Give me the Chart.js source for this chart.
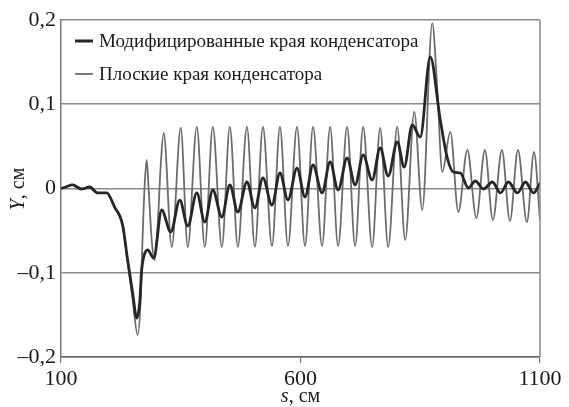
<!DOCTYPE html>
<html>
<head>
<meta charset="utf-8">
<script src="https://cdn.jsdelivr.net/npm/chart.js@4.4.0/dist/chart.umd.min.js"></script>
<style>
  html, body { margin: 0; padding: 0; background: #ffffff; }
  #wrap { width: 569px; height: 407px; position: relative; }
  .probe { font-family: 'Liberation Serif'; position: absolute; left: -9999px; top: 0; }
</style>
</head>
<body>
<div id="wrap"><canvas id="c" width="569" height="407"></canvas></div>
<span class="probe">Модифицированные 0,1 <i>s Y</i></span>
<script>
// ---- Data ----
const seriesLabels = ["Модифицированные края конденсатора", "Плоские края конденсатора"];
const xTickValues = [100, 600, 1100];
const yTickValues = [-0.2, -0.1, 0, 0.1, 0.2];

// Series 1: modified capacitor edges (thick dark line)
const sModified = [100, 109.4, 124.1, 142.9, 159.6, 176.4, 195.2, 211.9, 228.6, 239.1, 249.6, 258.0, 264.2, 268.4, 272.6, 281.0, 293.5,
  310.2, 329.1, 347.9, 364.6, 383.5, 400.2, 416.9, 435.8, 452.5, 469.2, 488.1, 504.8, 521.5, 540.4, 557.1, 573.8, 592.7, 609.4,
  626.2, 645.0, 661.8, 678.5, 697.3, 714.1, 730.8, 749.6, 766.3, 783.1, 801.9, 816.5, 833.3, 850.0, 870.9, 891.8, 906.5, 919.0,
  933.7, 950.4, 965.0, 981.8, 1000.6, 1017.4, 1034.1, 1052.9, 1069.6, 1086.4, 1100];
const yModified = [0.000, 0.0018, 0.0042, -0.0006, 0.0018, -0.0053, -0.0053, -0.0220, -0.0433, -0.0849, -0.1240, -0.1537, -0.1359, -0.0967, -0.0813, -0.0730, -0.0825,
  -0.0255, -0.0516, -0.0137, -0.0445, -0.0053, -0.0398, -0.0018, -0.0338, 0.0042, -0.0279, 0.0077, -0.0231, 0.0125, -0.0196, 0.0184, -0.0136, 0.0243, -0.0101,
  0.0279, -0.0053, 0.0315, -0.0018, 0.0362, 0.0042, 0.0398, 0.0101, 0.0481, 0.0148, 0.0552, 0.0255, 0.0754, 0.0611, 0.1561, 0.0813, 0.0362, 0.0196,
  0.0184, 0.0006, 0.0089, -0.0006, 0.0077, -0.0053, 0.0077, -0.0053, 0.0077, -0.0053, 0.0065];

// Series 2: flat capacitor edges (thin grey line)
const sFlat = [100, 109.4, 124.1, 142.9, 159.6, 176.4, 195.2, 211.9, 228.6, 239.1, 249.6, 260.0, 266.3, 270.5, 274.7, 278.9, 283.1, 289.3, 295.6, 301.9, 308.2, 314.4,
  331.2, 350.0, 364.6, 383.5, 400.2, 416.9, 435.8, 452.5, 469.2, 488.1, 504.8, 521.5, 540.4, 557.1, 573.8, 592.7, 609.4, 626.2, 645.0, 661.8, 678.5, 697.3,
  714.1, 730.8, 749.6, 766.3, 783.1, 801.9, 818.6, 837.5, 854.2, 875.1, 885.6, 896.0, 912.8, 929.5, 948.3, 967.1, 984.9, 1001.6, 1020.5, 1037.2, 1053.9,
  1072.7, 1087.4, 1100];
const yFlat = [0.000, 0.0018, 0.0042, -0.0006, 0.0018, -0.0053, -0.0053, -0.0220, -0.0433, -0.0872, -0.1323, -0.1739, -0.1323, -0.0552, 0.0042, 0.0338, -0.0018, -0.0611, -0.0849, -0.0433, 0.0279, 0.0659,
  -0.0694, 0.0718, -0.0694, 0.0730, -0.0694, 0.0730, -0.0694, 0.0730, -0.0694, 0.0730, -0.0694, 0.0730, -0.0682, 0.0730, -0.0682, 0.0730, -0.0682, 0.0730, -0.0682, 0.0730, -0.0682, 0.0730,
  -0.0682, 0.0730, -0.0694, 0.0718, -0.0694, 0.0730, -0.0611, 0.0908, -0.0255, 0.1964, 0.1169, 0.0196, 0.0671, -0.0279, 0.0457, -0.0350, 0.0457, -0.0374, 0.0457, -0.0386, 0.0457,
  -0.0398, 0.0433, -0.0374];

const toPoints = (xs, ys) => xs.map((x, i) => ({ x: x, y: ys[i] }));

const SERIF = "'Liberation Serif', 'Times New Roman', Tinos, serif";
const colModified = '#262626';
const colFlat = '#6c6c6c';

const fmtY = v => {
  const r = Math.round(v * 10) / 10;
  if (r === 0) return '0';
  const s = Math.abs(r).toFixed(1).replace('.', ',');
  return (r < 0 ? '\u2013' : '') + s;
};

const decorPlugin = {
  id: 'decor',
  afterDraw(chart) {
    const ctx = chart.ctx;
    const a = chart.chartArea;
    ctx.save();
    // right border of the plot box
    ctx.strokeStyle = '#8a8a8a';
    ctx.lineWidth = 1.5;
    ctx.beginPath();
    ctx.moveTo(a.right, a.top);
    ctx.lineTo(a.right, a.bottom);
    ctx.stroke();

    // legend inside the plot
    const ds = chart.data.datasets;
    const rows = [{ y: 41, w: 3, c: colModified }, { y: 74, w: 1.8, c: colFlat }];
    ctx.font = '19px ' + SERIF;
    ctx.textBaseline = 'middle';
    ctx.textAlign = 'left';
    rows.forEach((r, i) => {
      ctx.strokeStyle = r.c;
      ctx.lineWidth = r.w;
      ctx.beginPath();
      ctx.moveTo(75, r.y);
      ctx.lineTo(93, r.y);
      ctx.stroke();
      ctx.fillStyle = '#1a1a1a';
      ctx.fillText(ds[i].label, 99, r.y + 1);
    });

    // x axis title: italic s + ", см"
    ctx.fillStyle = '#1a1a1a';
    ctx.textBaseline = 'alphabetic';
    const xt1 = 's', xt2 = ', см';
    ctx.font = 'italic 20px ' + SERIF;
    const w1 = ctx.measureText(xt1).width;
    ctx.font = '20px ' + SERIF;
    const w2 = ctx.measureText(xt2).width;
    const cx = (a.left + a.right) / 2;
    let sx = cx - (w1 + w2) / 2;
    ctx.font = 'italic 20px ' + SERIF;
    ctx.fillText(xt1, sx, 402);
    ctx.font = '20px ' + SERIF;
    ctx.fillText(xt2, sx + w1, 402);

    // y axis title: italic Y + ", см", rotated
    ctx.save();
    ctx.translate(24, 189);
    ctx.rotate(-Math.PI / 2);
    const yt1 = 'Y', yt2 = ', см';
    ctx.font = 'italic 20px ' + SERIF;
    const v1 = ctx.measureText(yt1).width;
    ctx.font = '20px ' + SERIF;
    const v2 = ctx.measureText(yt2).width;
    let sy = -(v1 + v2) / 2;
    ctx.font = 'italic 20px ' + SERIF;
    ctx.fillText(yt1, sy, 0);
    ctx.font = '20px ' + SERIF;
    ctx.fillText(yt2, sy + v1, 0);
    ctx.restore();

    ctx.restore();
  }
};

function build() {
  new Chart(document.getElementById('c'), {
    type: 'line',
    data: {
      datasets: [
        {
          label: seriesLabels[0],
          data: toPoints(sModified, yModified),
          borderColor: colModified,
          borderWidth: 2.8,
          pointRadius: 0,
          cubicInterpolationMode: 'monotone',
          fill: false,
          order: 0
        },
        {
          label: seriesLabels[1],
          data: toPoints(sFlat, yFlat),
          borderColor: colFlat,
          borderWidth: 1.8,
          pointRadius: 0,
          cubicInterpolationMode: 'monotone',
          fill: false,
          order: 1
        }
      ]
    },
    options: {
      responsive: false,
      animation: false,
      devicePixelRatio: 1,
      layout: { padding: { left: 0, right: 29, top: 20, bottom: 0 } },
      plugins: { legend: { display: false }, tooltip: { enabled: false } },
      scales: {
        x: {
          type: 'linear',
          min: 100,
          max: 1100,
          afterBuildTicks: (scale) => { scale.ticks = xTickValues.map(v => ({ value: v })); },
          afterFit: (scale) => { scale.height = 50; },
          ticks: {
            font: { family: SERIF, size: 22 },
            color: '#1a1a1a',
            padding: 3,
            maxRotation: 0,
            autoSkip: false,
            callback: v => String(v)
          },
          grid: {
            drawOnChartArea: false,
            drawTicks: true,
            tickLength: 6,
            color: '#777777',
            lineWidth: 1.2
          },
          border: { display: true, color: '#666666', width: 1.5 }
        },
        y: {
          type: 'linear',
          min: -0.2,
          max: 0.2,
          afterBuildTicks: (scale) => { scale.ticks = yTickValues.map(v => ({ value: v })); },
          afterFit: (scale) => { scale.width = 61; },
          ticks: {
            font: { family: SERIF, size: 22 },
            color: '#1a1a1a',
            padding: 5,
            autoSkip: false,
            callback: v => fmtY(v)
          },
          grid: {
            drawTicks: false,
            color: '#8a8a8a',
            lineWidth: 1.5
          },
          border: { display: true, color: '#7a7a7a', width: 1.5 }
        }
      }
    },
    plugins: [decorPlugin]
  });
}

const fontLoads = [
  '19px "Liberation Serif"', '22px "Liberation Serif"', 'italic 20px "Liberation Serif"'
].map(f => document.fonts.load(f, 'Модифицированные 0,1 sY').catch(() => null));
Promise.all(fontLoads).then(build, build);
</script>
</body>
</html>
